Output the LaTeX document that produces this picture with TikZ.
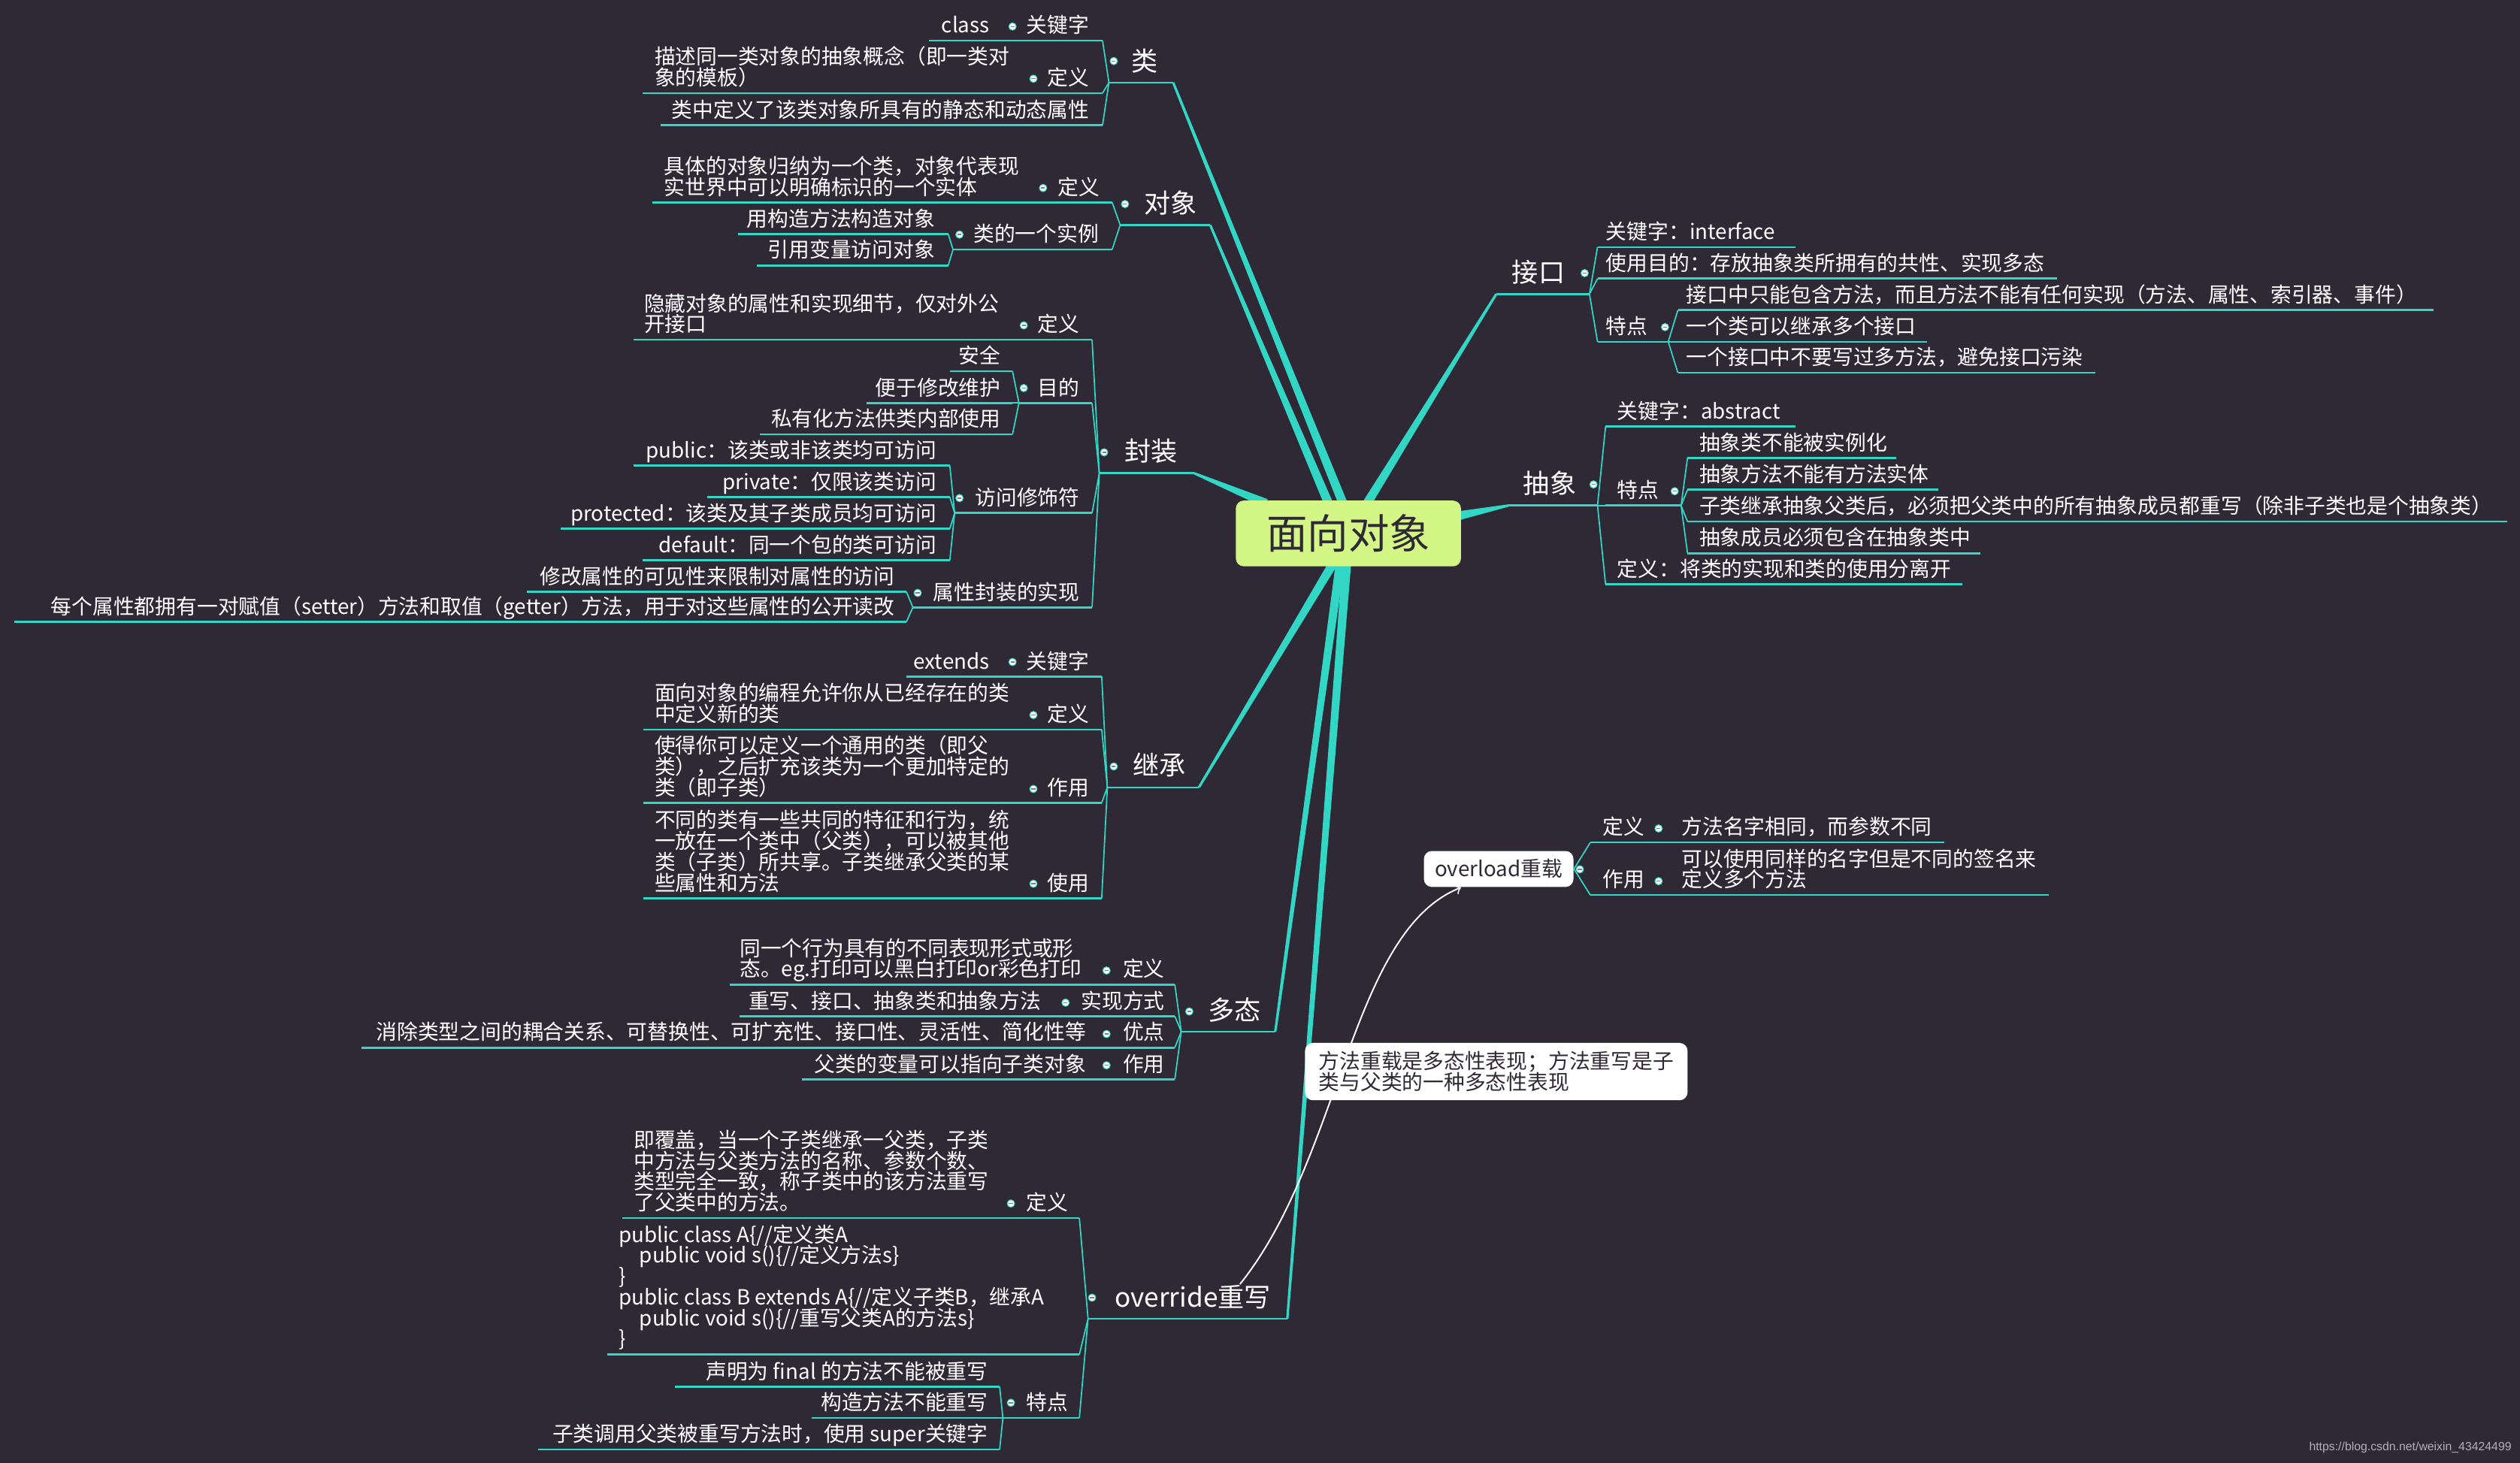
\documentclass[tikz,border=0pt]{standalone}
\usepackage{fontspec}
\setmainfont{Noto Sans CJK SC}
\newfontfamily\markfont{Liberation Sans}
\usetikzlibrary{calc,arrows}
\pgfdeclarelayer{back}
\pgfsetlayers{back,main}

\definecolor{bgc}{RGB}{47,41,53}
\definecolor{tealc}{RGB}{49,214,196}
\definecolor{hubc}{RGB}{211,246,134}
\definecolor{inkc}{RGB}{47,41,53}

% underline of a topic, with its two ends named
\newcommand{\topicline}[4]{\draw[ul] (#2,#4) coordinate (#1-l) -- (#3,#4) coordinate (#1-r);}
% tapered main branch
\newcommand{\taper}[2]{\fill[tealc] ($(#1)!1.7pt!90:(#2)$) -- ($(#2)!0.45pt!-90:(#1)$) -- ($(#2)!0.45pt!90:(#1)$) -- ($(#1)!1.7pt!-90:(#2)$) -- cycle;}

\begin{document}
\lineskiplimit-5pt
\begin{tikzpicture}[x=0.2138mm, y=-0.2138mm,
  ul/.style={tealc, line width=0.75pt},
  twig/.style={tealc, line width=0.5pt},
  leaf/.style={text=white, font=\fontsize{7.9}{7.9}\selectfont, inner sep=0pt, align=left},
  branch/.style={text=white, font=\fontsize{10}{10}\selectfont, inner sep=0pt},
  hub/.style={fill=hubc, text=inkc, rounded corners=3pt, minimum width=85.2pt, minimum height=24.9pt, font=\fontsize{15.5}{15.5}\selectfont},
  box/.style={fill=white, text=inkc, rounded corners=3pt, inner sep=0pt, font=\fontsize{7.9}{7.9}\selectfont, align=left},
  rel/.style={white, line width=0.55pt, -to}]
\useasboundingbox (0,0) rectangle (1568,910.5);

% central topic
\node[hub] (oop) at (839,332) {面向对象};

% 类
\topicline{cls}{690}{730}{51.4}
\node[branch, anchor=base east] (cls) at (721,44) {类};
\topicline{clsKw}{628}{686}{25.2}
\node[leaf, anchor=base east] (clsKw) at (678,20.4) {关键字};
\topicline{clsKwV}{578}{628}{25.2}
\node[leaf, anchor=base east] (clsKwV) at (616,20.4) {class};
\topicline{clsDef}{640}{686}{58}
\node[leaf, anchor=base east] (clsDef) at (678,53.2) {定义};
\topicline{clsDefV}{400}{640}{58}
\node[leaf, anchor=base west] (clsDefV) at (407,53.2) {描述同一类对象的抽象概念（即一类对\\象的模板）};
\topicline{clsAttr}{411}{686}{78}
\node[leaf, anchor=base east] (clsAttr) at (678,73.2) {类中定义了该类对象所具有的静态和动态属性};

% 对象
\topicline{obj}{697}{753}{140}
\node[branch, anchor=base east] (obj) at (745,132.6) {对象};
\topicline{objDef}{645}{692}{126}
\node[leaf, anchor=base east] (objDef) at (684.5,121.2) {定义};
\topicline{objDefV}{406}{645}{126}
\node[leaf, anchor=base west] (objDefV) at (413,121.2) {具体的对象归纳为一个类，对象代表现\\实世界中可以明确标识的一个实体};
\topicline{objInst}{593}{692}{155.3}
\node[leaf, anchor=base east] (objInst) at (684,150.5) {类的一个实例};
\topicline{objNew}{459}{590}{145.7}
\node[leaf, anchor=base east] (objNew) at (582,140.9) {用构造方法构造对象};
\topicline{objRef}{471}{590}{165.2}
\node[leaf, anchor=base east] (objRef) at (582,160.4) {引用变量访问对象};

% 封装
\topicline{enc}{684}{743}{294.5}
\node[branch, anchor=base east] (enc) at (733,287.1) {封装};
\topicline{encDef}{634}{679.5}{211.4}
\node[leaf, anchor=base east] (encDef) at (672,206.6) {定义};
\topicline{encDefV}{394}{634}{211.4}
\node[leaf, anchor=base west] (encDefV) at (400.5,206.6) {隐藏对象的属性和实现细节，仅对外公\\开接口};
\topicline{encAim}{634}{679.5}{250.8}
\node[leaf, anchor=base east] (encAim) at (672,246) {目的};
\topicline{encSafe}{591}{630}{231}
\node[leaf, anchor=base east] (encSafe) at (623,226.2) {安全};
\topicline{encEasy}{539}{630}{250.8}
\node[leaf, anchor=base east] (encEasy) at (623,246) {便于修改维护};
\topicline{encPriv}{473}{630}{270.3}
\node[leaf, anchor=base east] (encPriv) at (623,265.5) {私有化方法供类内部使用};
\topicline{encMod}{594}{679.5}{319.3}
\node[leaf, anchor=base east] (encMod) at (672,314.5) {访问修饰符};
\topicline{encPub}{394}{591}{289.8}
\node[leaf, anchor=base east] (encPub) at (583,285) {public：该类或非该类均可访问};
\topicline{encPri}{440}{591}{309.4}
\node[leaf, anchor=base east] (encPri) at (583,304.6) {private：仅限该类访问};
\topicline{encPro}{349}{591}{329}
\node[leaf, anchor=base east] (encPro) at (583,324.2) {protected：该类及其子类成员均可访问};
\topicline{encDft}{400}{591}{348.7}
\node[leaf, anchor=base east] (encDft) at (583,343.9) {default：同一个包的类可访问};
\topicline{encImp}{568}{679.5}{378}
\node[leaf, anchor=base east] (encImp) at (672,373.2) {属性封装的实现};
\topicline{encVis}{328}{564}{368.3}
\node[leaf, anchor=base east] (encVis) at (557,363.5) {修改属性的可见性来限制对属性的访问};
\topicline{encGet}{9}{564}{387}
\node[leaf, anchor=base east] (encGet) at (557,382.2) {每个属性都拥有一对赋值（setter）方法和取值（getter）方法，用于对这些属性的公开读改};

% 继承
\topicline{inh}{689}{746}{490}
\node[branch, anchor=base east] (inh) at (738,482.6) {继承};
\topicline{inhKw}{628}{685.5}{421}
\node[leaf, anchor=base east] (inhKw) at (678,416.2) {关键字};
\topicline{inhKwV}{564}{628}{421}
\node[leaf, anchor=base east] (inhKwV) at (616,416.2) {extends};
\topicline{inhDef}{640}{685.5}{454}
\node[leaf, anchor=base east] (inhDef) at (678,449.2) {定义};
\topicline{inhDefV}{400.5}{640}{454}
\node[leaf, anchor=base west] (inhDefV) at (407,449.2) {面向对象的编程允许你从已经存在的类\\中定义新的类};
\topicline{inhUse}{640}{685.5}{499.6}
\node[leaf, anchor=base east] (inhUse) at (678,494.8) {作用};
\topicline{inhUseV}{400.5}{640}{499.6}
\node[leaf, anchor=base west] (inhUseV) at (407,494.8) {使得你可以定义一个通用的类（即父\\类），之后扩充该类为一个更加特定的\\类（即子类）};
\topicline{inhApp}{640}{685.5}{559}
\node[leaf, anchor=base east] (inhApp) at (678,554.2) {使用};
\topicline{inhAppV}{400.5}{640}{559}
\node[leaf, anchor=base west] (inhAppV) at (407,554.2) {不同的类有一些共同的特征和行为，统\\一放在一个类中（父类），可以被其他\\类（子类）所共享。子类继承父类的某\\些属性和方法};

% 多态
\topicline{poly}{735}{793.5}{642}
\node[branch, anchor=base east] (poly) at (785,634.6) {多态};
\topicline{polyDef}{685}{731}{612.7}
\node[leaf, anchor=base east] (polyDef) at (725,607.9) {定义};
\topicline{polyDefV}{454}{685}{612.7}
\node[leaf, anchor=base west] (polyDefV) at (460,607.9) {同一个行为具有的不同表现形式或形\\态。eg.打印可以黑白打印or彩色打印};
\topicline{polyWay}{660}{731}{632.4}
\node[leaf, anchor=base east] (polyWay) at (725,627.6) {实现方式};
\topicline{polyWayV}{460}{660}{632.4}
\node[leaf, anchor=base east] (polyWayV) at (648,627.6) {重写、接口、抽象类和抽象方法};
\topicline{polyPro}{685}{731}{652}
\node[leaf, anchor=base east] (polyPro) at (725,647.2) {优点};
\topicline{polyProV}{224.7}{685}{652}
\node[leaf, anchor=base east] (polyProV) at (676,647.2) {消除类型之间的耦合关系、可替换性、可扩充性、接口性、灵活性、简化性等};
\topicline{polyRole}{685}{731}{671.7}
\node[leaf, anchor=base east] (polyRole) at (725,666.9) {作用};
\topicline{polyRoleV}{499}{685}{671.7}
\node[leaf, anchor=base east] (polyRoleV) at (676,666.9) {父类的变量可以指向子类对象};

% override重写
\topicline{ovr}{677}{801}{820.7}
\node[branch, anchor=base east] (ovr) at (791,813.3) {override重写};
\topicline{ovrDef}{626}{671.6}{758}
\node[leaf, anchor=base east] (ovrDef) at (665,753.2) {定义};
\topicline{ovrDefV}{387}{626}{758}
\node[leaf, anchor=base west] (ovrDefV) at (394,753.2) {即覆盖，当一个子类继承一父类，子类\\中方法与父类方法的名称、参数个数、\\类型完全一致，称子类中的该方法重写\\了父类中的方法。};
\topicline{ovrCode}{378}{671.6}{843}
\node[leaf, anchor=base west] (ovrCode) at (384.6,838) {public class A\{//定义类A \\ \hspace*{1em}public void s()\{//定义方法s\} \\ \} \\ public class B extends A\{//定义子类B，继承A \\ \hspace*{1em}public void s()\{//重写父类A的方法s\} \\ \}};
\topicline{ovrFeat}{624}{671.6}{882.5}
\node[leaf, anchor=base east] (ovrFeat) at (665,877.7) {特点};
\topicline{ovrFin}{420}{622}{863}
\node[leaf, anchor=base east] (ovrFin) at (615,858.2) {声明为 final 的方法不能被重写};
\topicline{ovrCtor}{505}{622}{882.5}
\node[leaf, anchor=base east] (ovrCtor) at (615,877.7) {构造方法不能重写};
\topicline{ovrSup}{335}{622}{902}
\node[leaf, anchor=base east] (ovrSup) at (615,897.2) {子类调用父类被重写方法时，使用 super关键字};

% 接口
\topicline{itf}{931}{989}{183}
\node[branch, anchor=base west] (itf) at (940.5,175.6) {接口};
\topicline{itfKw}{994}{1117}{153.8}
\node[leaf, anchor=base west] (itfKw) at (999,149) {关键字：interface};
\topicline{itfUse}{994}{1280}{173.4}
\node[leaf, anchor=base west] (itfUse) at (999,168.6) {使用目的：存放抽象类所拥有的共性、实现多态};
\topicline{itfFeat}{994}{1038}{212.7}
\node[leaf, anchor=base west] (itfFeat) at (999,207.9) {特点};
\topicline{itfOnly}{1044}{1514}{193}
\node[leaf, anchor=base west] (itfOnly) at (1049,188.2) {接口中只能包含方法，而且方法不能有任何实现（方法、属性、索引器、事件）};
\topicline{itfMulti}{1038}{1199}{212.7}
\node[leaf, anchor=base west] (itfMulti) at (1049,207.9) {一个类可以继承多个接口};
\topicline{itfFew}{1044}{1304}{232}
\node[leaf, anchor=base west] (itfFew) at (1049,227.2) {一个接口中不要写过多方法，避免接口污染};

% 抽象
\topicline{abs}{938.6}{994}{314.6}
\node[branch, anchor=base west] (abs) at (947.5,307.2) {抽象};
\topicline{absKw}{999}{1117}{265.5}
\node[leaf, anchor=base west] (absKw) at (1006,260.7) {关键字：abstract};
\topicline{absFeat}{999}{1046}{314.6}
\node[leaf, anchor=base west] (absFeat) at (1006,309.8) {特点};
\topicline{absNoNew}{1050}{1180}{285}
\node[leaf, anchor=base west] (absNoNew) at (1057,280.2) {抽象类不能被实例化};
\topicline{absNoBody}{1050}{1206}{304.8}
\node[leaf, anchor=base west] (absNoBody) at (1057,300) {抽象方法不能有方法实体};
\topicline{absOverr}{1050}{1560}{324.6}
\node[leaf, anchor=base west] (absOverr) at (1057,319.8) {子类继承抽象父类后，必须把父类中的所有抽象成员都重写（除非子类也是个抽象类）};
\topicline{absIn}{1050}{1232}{344.3}
\node[leaf, anchor=base west] (absIn) at (1057,339.5) {抽象成员必须包含在抽象类中};
\topicline{absDef}{999}{1221}{363.7}
\node[leaf, anchor=base west] (absDef) at (1006,358.9) {定义：将类的实现和类的使用分离开};

% overload重载 (floating topic)
\node[box, minimum width=56.6pt, minimum height=13.6pt, align=center] (ovl) at (932.5,540.8) {overload重载};
\topicline{ovlDef}{989.5}{1040}{524.3}
\node[leaf, anchor=base west] (ovlDef) at (997,519.5) {定义};
\topicline{ovlDefV}{1040}{1210}{524.3}
\node[leaf, anchor=base west] (ovlDefV) at (1046,519.5) {方法名字相同，而参数不同};
\topicline{ovlRole}{989.5}{1040}{557}
\node[leaf, anchor=base west] (ovlRole) at (997,552.2) {作用};
\topicline{ovlRoleV}{1040}{1275}{557}
\node[leaf, anchor=base west] (ovlRoleV) at (1046,552.2) {可以使用同样的名字但是不同的签名来\\定义多个方法};

% sub-branch connectors
\foreach \p/\c in {cls/clsKw, clsKw/clsKwV, cls/clsDef, clsDef/clsDefV, cls/clsAttr,
    obj/objDef, objDef/objDefV, obj/objInst, objInst/objNew, objInst/objRef,
    enc/encDef, encDef/encDefV, enc/encAim, encAim/encSafe, encAim/encEasy, encAim/encPriv,
    enc/encMod, encMod/encPub, encMod/encPri, encMod/encPro, encMod/encDft,
    enc/encImp, encImp/encVis, encImp/encGet,
    inh/inhKw, inhKw/inhKwV, inh/inhDef, inhDef/inhDefV, inh/inhUse, inhUse/inhUseV, inh/inhApp, inhApp/inhAppV,
    poly/polyDef, polyDef/polyDefV, poly/polyWay, polyWay/polyWayV, poly/polyPro, polyPro/polyProV, poly/polyRole, polyRole/polyRoleV,
    ovr/ovrDef, ovrDef/ovrDefV, ovr/ovrCode, ovr/ovrFeat, ovrFeat/ovrFin, ovrFeat/ovrCtor, ovrFeat/ovrSup}
  \draw[twig] (\p-l) -- (\c-r);
\foreach \p/\c in {itf/itfKw, itf/itfUse, itf/itfFeat, itfFeat/itfOnly, itfFeat/itfMulti, itfFeat/itfFew,
    abs/absKw, abs/absFeat, absFeat/absNoNew, absFeat/absNoBody, absFeat/absOverr, absFeat/absIn, abs/absDef,
    ovlDef/ovlDefV, ovlRole/ovlRoleV}
  \draw[twig] (\p-r) -- (\c-l);
\draw[twig] (ovl.east) -- (ovlDef-l);
\draw[twig] (ovl.east) -- (ovlRole-l);

% collapse dots
\foreach \x/\y in {630/16.5, 643/49, 693/38, 649/117, 597/146, 700/127,
    637/202.5, 637/241.5, 597/310, 571/369, 687/281.5,
    630/412, 643/445, 643/491, 643/550, 693/477,
    688.5/604, 663/624, 688.5/643.5, 688.5/663, 740/629.5,
    629/749, 629/873, 679.5/807.6,
    986/170, 1036/203.6, 991.5/301.5, 1042/305.7,
    983/541, 1032/515.6, 1032/548.4}
  {\filldraw[fill=white, draw=tealc, line width=0.3pt] (\x,\y) circle (1.4pt);
   \draw[gray, line width=0.4pt] (\x-1.2,\y) -- (\x+1.2,\y);}

% relationship override -> overload
\draw[rel] ($(ovr.north west)!0.8!(ovr.north east)$) .. controls (835,720) and (840,580) .. ($(ovl.south west)!0.25!(ovl.south east)$);
\node[box, minimum width=144.8pt, minimum height=21.7pt] (note) at (931,666.9) {方法重载是多态性表现；方法重写是子\\类与父类的一种多态性表现};

\node[text=gray!60, font=\markfont\fontsize{4.5}{4.5}\selectfont, anchor=base east, inner sep=0pt] (mark) at (1563,903) {https://blog.csdn.net/weixin\_43424499};

% background and main branches
\begin{pgfonlayer}{back}
\fill[bgc] (0,0) rectangle (1568,910.5);
\coordinate (clsHub) at ($(oop.north)+(-3,3)$);
\coordinate (objHub) at ($(oop.north)+(-12,3)$);
\coordinate (encHub) at ($(oop.north west)+(19,2)$);
\coordinate (itfHub) at ($(oop.north)+(11,3)$);
\coordinate (absHub) at ($(oop.east)+(-2,-11)$);
\coordinate (inhHub) at ($(oop.south)+(-9,-3)$);
\coordinate (polyHub) at ($(oop.south)+(-5,-3)$);
\coordinate (ovrHub) at ($(oop.south)+(-1,-3)$);
\taper{clsHub}{cls-r}
\taper{objHub}{obj-r}
\taper{encHub}{enc-r}
\taper{itfHub}{itf-l}
\taper{absHub}{abs-l}
\taper{inhHub}{inh-r}
\taper{polyHub}{poly-r}
\taper{ovrHub}{ovr-r}
\end{pgfonlayer}
\end{tikzpicture}
\end{document}
